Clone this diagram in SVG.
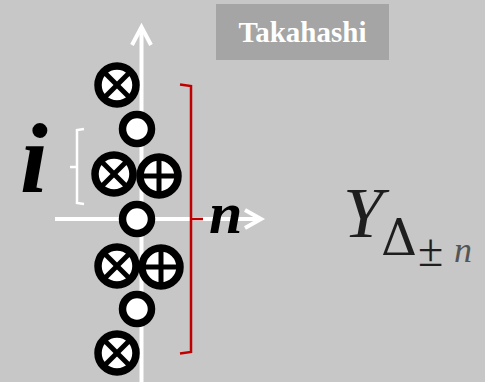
<svg xmlns="http://www.w3.org/2000/svg" width="485" height="382" viewBox="0 0 485 382">
  <defs>
    <style>
      .axis { stroke: #ffffff; stroke-width: 4; fill: none; }
      .ring { fill: #ffffff; stroke: #000000; stroke-width: 7.5; }
      .bar { stroke: #000000; stroke-width: 5; }
      .serif { font-family: "DejaVu Serif", "Liberation Serif", serif; }
      .tserif { font-family: "Liberation Serif", "Times New Roman", serif; }
      .math { font-family: "Liberation Serif", "Times New Roman", serif; font-style: italic; font-weight: bold; fill: #000000; }
    </style>
    <g id="otimes">
      <circle class="ring" cx="0" cy="0" r="19"/>
      <line class="bar" x1="-14" y1="-14" x2="14" y2="14"/>
      <line class="bar" x1="-14" y1="14" x2="14" y2="-14"/>
    </g>
    <g id="oplus">
      <circle class="ring" cx="0" cy="0" r="19"/>
      <line class="bar" x1="0" y1="-19" x2="0" y2="19"/>
      <line class="bar" x1="-19" y1="0" x2="19" y2="0"/>
    </g>
    <g id="odot">
      <circle class="ring" cx="0" cy="0" r="14.5"/>
    </g>
  </defs>
  <rect x="0" y="0" width="485" height="382" fill="#c7c7c7"/>

  <g id="connectors">
    <line class="axis" x1="141.5" y1="382" x2="141.5" y2="27"/>
    <polyline class="axis" points="132,45 141.5,27 151,45"/>
    <line class="axis" x1="55" y1="219" x2="261" y2="219"/>
    <polyline class="axis" points="245,210 261,219 245,228"/>
    <polyline fill="none" stroke="#c00000" stroke-width="2.5" points="180,84.5 191,86 191,352 180,353.5"/>
    <line stroke="#c00000" stroke-width="2.5" x1="191" y1="219" x2="203" y2="219"/>
    <polyline fill="none" stroke="#ffffff" stroke-width="2.5" points="84,129 77,130 77,203 84,204"/>
    <line stroke="#ffffff" stroke-width="2.5" x1="70" y1="167" x2="77" y2="167"/>
  </g>

  <g id="node-otimes-1"><use href="#otimes" x="117" y="85"/></g>
  <g id="node-odot-1"><use href="#odot" x="137" y="129"/></g>
  <g id="node-otimes-2"><use href="#otimes" x="114" y="174"/></g>
  <g id="node-oplus-1"><use href="#oplus" x="159" y="176"/></g>
  <g id="node-odot-2"><use href="#odot" x="137" y="219"/></g>
  <g id="node-otimes-3"><use href="#otimes" x="117" y="266"/></g>
  <g id="node-oplus-2"><use href="#oplus" x="161" y="267"/></g>
  <g id="node-odot-3"><use href="#odot" x="137" y="309"/></g>
  <g id="node-otimes-4"><use href="#otimes" x="117" y="353"/></g>

  <g id="label-i"><text class="math" x="20" y="192" font-size="100">i</text></g>
  <g id="label-n"><text class="math" x="209" y="233" font-size="60">n</text></g>

  <g id="label-Y">
    <text class="tserif" x="343" y="237" font-style="italic" font-size="72" fill="#1e1e1e">Y</text>
    <text class="serif" x="381" y="255" font-size="50" fill="#1e1e1e">Δ</text>
    <text class="tserif" x="418" y="266" font-size="46" fill="#1e1e1e">±</text>
    <text class="tserif" x="454" y="262" font-style="italic" font-size="36" fill="#555555">n</text>
  </g>

  <g id="title">
    <rect x="216" y="4" width="173" height="56" fill="#a5a5a5"/>
    <text class="tserif" x="302.5" y="42" text-anchor="middle" font-weight="bold" font-size="29" fill="#ffffff">Takahashi</text>
  </g>
</svg>
